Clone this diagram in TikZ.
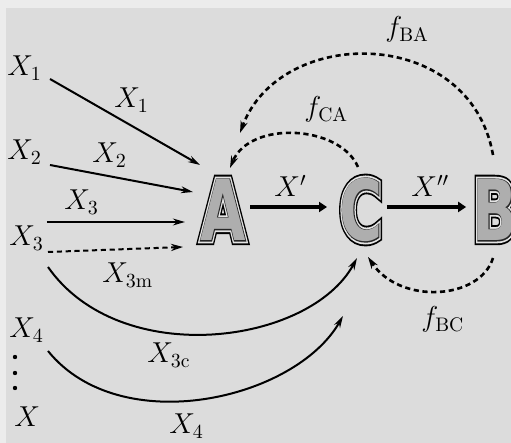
\documentclass[tikz,border=0pt]{standalone}
\usepackage{fontspec}
\usetikzlibrary{arrows.meta,calc}
\newfontfamily\ltOuter{DejaVu Sans}[FakeBold=11]
\newfontfamily\ltMid{DejaVu Sans}[FakeBold=6.5]
\newfontfamily\ltInner{DejaVu Sans}[FakeBold=2.2]
\newfontfamily\ltFill{DejaVu Sans}
\definecolor{bgmain}{HTML}{DCDCDC}
\definecolor{bgedge}{HTML}{ECECEC}
\definecolor{lettergray}{HTML}{AEAEAE}
\definecolor{letterlight}{HTML}{E4E4E4}
\newcommand\narrowletter[2]{\rlap{\scalebox{0.70}[1]{#1\bfseries\fontsize{42}{42}\selectfont #2}}}
\newcommand\bigletter[1]{%
  \narrowletter{\color{black}\ltOuter}{#1}%
  \narrowletter{\color{letterlight}\ltMid}{#1}%
  \narrowletter{\color{black!85}\ltInner}{#1}%
  \scalebox{0.70}[1]{\color{lettergray}\ltFill\bfseries\fontsize{42}{42}\selectfont #1}}
\tikzset{
  lab/.style={inner sep=0pt, anchor=base west, font=\fontsize{14}{16}\selectfont},
  letternode/.style={inner sep=0pt, anchor=center},
  thinarrow/.style={line width=1pt, -{Stealth[length=6pt,width=3.4pt]}},
  dasharrow/.style={line width=1.3pt, dash pattern=on 2.6pt off 1.8pt, -{Stealth[length=6pt,width=3.6pt]}},
  thickarrow/.style={line width=2.4pt, -{Triangle[length=4pt,width=5pt]}},
}
\begin{document}
\begin{tikzpicture}[x=0.5pt,y=-0.5pt]
\useasboundingbox (0,0) rectangle (511,443);
\fill[bgedge] (0,0) rectangle (511,443);
\fill[bgmain] (6,8) rectangle (511,443);
% main letters
\node[letternode] (A) at (223,210) {\bigletter{A}};
\node[letternode] (C) at (361,210) {\bigletter{C}};
\node[letternode] (B) at (495,210) {\bigletter{B}};
% left labels
\node[lab] (x1) at (7,76) {$X_1$};
\node[lab] (x2) at (7,160) {$X_2$};
\node[lab] (x3) at (9,246) {$X_3$};
\node[lab] (x4) at (9,338) {$X_4$};
\node[lab] (xx) at (14,427) {$X$};
\fill (15,357) circle (2.2) (15,373) circle (2.2) (15,388) circle (2.2);
% arrow start/end coordinates
\coordinate (s1) at (50,79);
\coordinate (e1) at (200,165);
\coordinate (s2) at (50,165);
\coordinate (e2) at (193,192);
\coordinate (s3) at (47,222);
\coordinate (e3) at (185,222);
\coordinate (s3m) at (48,252);
\coordinate (e3m) at (183,247);
\coordinate (s3c) at (48,267);
\coordinate (e3c) at (357,258);
\coordinate (s4) at (48,351);
\coordinate (e4) at (343,316);
\draw[thinarrow] (s1) -- (e1);
\draw[thinarrow] (s2) -- (e2);
\draw[thinarrow] (s3) -- (e3);
\draw[dasharrow, line width=1pt] (s3m) -- (e3m);
\draw[thinarrow] (s3c) .. controls (120,370) and (310,345) .. (e3c);
\draw[thinarrow] (s4) .. controls (120,440) and (295,400) .. (e4);
% line labels
\node[lab] (l1) at (114,108) {$X_1$};
\node[lab] (l2) at (92,163) {$X_2$};
\node[lab] (l3) at (64,210) {$X_3$};
\node[lab] (l3m) at (102,283) {$X_{3\mathrm{m}}$};
\node[lab] (l3c) at (147,363) {$X_{3\mathrm{c}}$};
\node[lab] (l4) at (169,434) {$X_4$};
% thick arrows
\draw[thickarrow] ($(A.east)+(4,-3)$) -- ($(C.west)+(-12,-3)$);
\draw[thickarrow] ($(C.east)+(4,-3)$) -- ($(B.west)+(-6,-3)$);
\node[lab] (xp) at (274,197) {$X'$};
\node[lab] (xpp) at (411,197) {$X''$};
% feedback arcs
\coordinate (ba0) at (493,155);
\coordinate (ba1) at (240,133);
\coordinate (ca0) at (358,167);
\coordinate (ca1) at (230,168);
\coordinate (bc0) at (493,258);
\coordinate (bc1) at (368,257);
\draw[dasharrow] (ba0) .. controls (470,25) and (280,25) .. (ba1);
\draw[dasharrow] (ca0) .. controls (340,125) and (250,120) .. (ca1);
\draw[dasharrow] (bc0) .. controls (480,300) and (400,305) .. (bc1);
\node[lab] (fba) at (385,37) {$f_{\mathrm{BA}}$};
\node[lab] (fca) at (304,117) {$f_{\mathrm{CA}}$};
\node[lab] (fbc) at (421,327) {$f_{\mathrm{BC}}$};
\end{tikzpicture}
\end{document}
